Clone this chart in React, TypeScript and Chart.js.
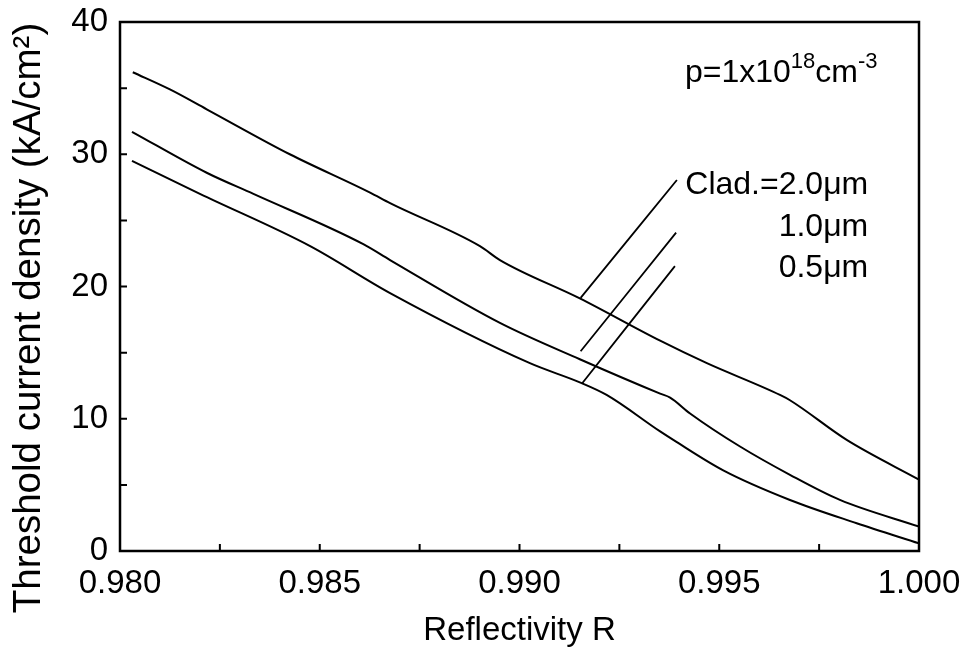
import React, { useEffect, useRef } from 'react';
import { Chart, registerables } from 'chart.js';

Chart.register(...registerables);

// Reflectivity R (x) and threshold current density kA/cm^2 (y)
const r20 = [0.98032, 0.98125, 0.98217, 0.98425, 0.98626, 0.98676, 0.98901, 0.98951, 0.99151, 0.99352, 0.99469, 0.99652, 0.99677, 0.99819, 1.0];
const j20 = [36.2, 34.9, 33.4, 30.0, 27.1, 26.3, 23.05, 22.0, 19.1, 15.9, 14.2, 11.8, 11.4, 8.4, 5.4];

const r10 = [0.9803, 0.98217, 0.98334, 0.98609, 0.98676, 0.98951, 0.99151, 0.99352, 0.99377, 0.99427, 0.99552, 0.99677, 0.99802, 1.0];
const j10 = [31.7, 28.6, 27.0, 23.2, 22.0, 17.25, 14.5, 11.9, 11.6, 10.4, 7.9, 5.76, 3.86, 1.84];

const r05 = [0.9803, 0.982, 0.98476, 0.98676, 0.99026, 0.99151, 0.99218, 0.99352, 0.99385, 0.9951, 0.99677, 0.99844, 1.0];
const j05 = [29.5, 27.0, 23.05, 19.5, 14.2, 12.75, 11.8, 9.04, 8.4, 6.1, 3.86, 2.1, 0.58];

// leader lines [R start, R end], [J start, J end]
const leaderR = [[0.99153, 0.99394], [0.99153, 0.99392], [0.99156, 0.99389]];
const leaderJ = [[19.14, 28.05], [15.1, 24.07], [12.65, 21.54]];

const cladLabels = ['Clad.=2.0\u03bcm', '1.0\u03bcm', '0.5\u03bcm'];
const cladLabelJ = [27.0, 23.8, 20.7];
const cladLabelR = 0.99873;

const noteR = 0.99414;
const noteJ = 35.45;

const xTickLabels = ['0.980', '0.985', '0.990', '0.995', '1.000'];
const yTickLabels = ['0', '10', '20', '30', '40'];

const xTitle = 'Reflectivity R';
const yTitle = 'Threshold current density (kA/cm\u00b2)';

const FONT = '"Liberation Sans", Arial, Helvetica, sans-serif';

const pts = (xs: number[], ys: number[]) => xs.map((v, i) => ({ x: v, y: ys[i] }));

const noPad = (s: any) => {
  s.paddingTop = 0;
  s.paddingBottom = 0;
  s.paddingLeft = 0;
  s.paddingRight = 0;
};

const overlay = {
  id: 'overlay',
  afterDraw(chart: any) {
    const { ctx, chartArea: a, scales } = chart;
    const x = scales.x;
    const y = scales.y;
    ctx.save();
    ctx.strokeStyle = '#000';
    ctx.fillStyle = '#000';
    ctx.lineWidth = 2.5;
    ctx.strokeRect(a.left, a.top, a.right - a.left, a.bottom - a.top);
    ctx.lineWidth = 2;
    ctx.beginPath();
    x.ticks.forEach((t: any) => {
      const px = x.getPixelForValue(t.value);
      ctx.moveTo(px, a.bottom);
      ctx.lineTo(px, a.bottom - 7);
    });
    y.ticks.forEach((t: any) => {
      const py = y.getPixelForValue(t.value);
      ctx.moveTo(a.left, py);
      ctx.lineTo(a.left + 7, py);
    });
    ctx.stroke();

    // curve labels
    ctx.font = `32px ${FONT}`;
    ctx.textAlign = 'right';
    ctx.textBaseline = 'alphabetic';
    cladLabels.forEach((s, i) => {
      ctx.fillText(s, x.getPixelForValue(cladLabelR), y.getPixelForValue(cladLabelJ[i]));
    });

    // p=1x10^18 cm^-3
    ctx.textAlign = 'left';
    let px = x.getPixelForValue(noteR);
    const py = y.getPixelForValue(noteJ);
    const parts: [string, boolean][] = [['p=1x10', false], ['18', true], ['cm', false], ['-3', true]];
    parts.forEach(([s, sup]) => {
      ctx.font = sup ? `22px ${FONT}` : `32px ${FONT}`;
      ctx.fillText(s, px, sup ? py - 14 : py);
      px += ctx.measureText(s).width;
    });

    // y title
    ctx.font = `38.5px ${FONT}`;
    ctx.textAlign = 'center';
    ctx.textBaseline = 'middle';
    ctx.translate(29, 318);
    ctx.rotate(-Math.PI / 2);
    ctx.fillText(yTitle, 0, 0);
    ctx.restore();
  },
};

export default function App() {
  const ref = useRef<HTMLCanvasElement | null>(null);
  useEffect(() => {
    if (!ref.current) return;
    const lineDs = (data: any[], w: number) => ({
      data,
      borderColor: '#000',
      borderWidth: w,
      pointRadius: 0,
      fill: false,
      cubicInterpolationMode: 'monotone' as const,
    });
    const chart = new Chart(ref.current, {
      type: 'line',
      data: {
        datasets: [
          lineDs(pts(r20, j20), 2),
          lineDs(pts(r10, j10), 2),
          lineDs(pts(r05, j05), 2),
          ...leaderR.map((rr, i) => lineDs(pts(rr, leaderJ[i]), 1.8)),
        ],
      },
      options: {
        animation: false,
        responsive: false,
        events: [],
        layout: { autoPadding: false, padding: { top: 22, right: 44, left: 0, bottom: 0 } },
        plugins: { legend: { display: false }, tooltip: { enabled: false } },
        scales: {
          x: {
            type: 'linear',
            min: 0.98,
            max: 1.0,
            afterFit: (s: any) => { s.height = 109; noPad(s); },
            grid: { display: false, drawTicks: false },
            border: { display: false },
            ticks: {
              stepSize: 0.0025,
              autoSkip: false,
              maxRotation: 0,
              padding: 13,
              color: '#000',
              font: { family: FONT, size: 33 },
              callback: (v: any) => {
                const k = Math.round((Number(v) - 0.98) / 0.005 * 1000) / 1000;
                return Number.isInteger(k) ? xTickLabels[k] ?? '' : '';
              },
            },
            title: {
              display: true,
              text: xTitle,
              color: '#000',
              font: { family: FONT, size: 33 },
              padding: { top: 0, bottom: 9 },
            },
          },
          y: {
            type: 'linear',
            min: 0,
            max: 40,
            afterFit: (s: any) => { s.width = 120; noPad(s); },
            grid: { display: false, drawTicks: false },
            border: { display: false },
            ticks: {
              stepSize: 5,
              autoSkip: false,
              padding: 12,
              color: '#000',
              font: { family: FONT, size: 33 },
              callback: (v: any) => {
                const k = Math.round(Number(v) / 10 * 1000) / 1000;
                return Number.isInteger(k) ? yTickLabels[k] ?? '' : '';
              },
            },
          },
        },
      },
      plugins: [overlay],
    });
    return () => chart.destroy();
  }, []);
  return (
    <div style={{ position: 'absolute', left: 0, top: 0, width: 963, height: 660, background: '#fff' }}>
      <canvas ref={ref} width={963} height={660} />
    </div>
  );
}
